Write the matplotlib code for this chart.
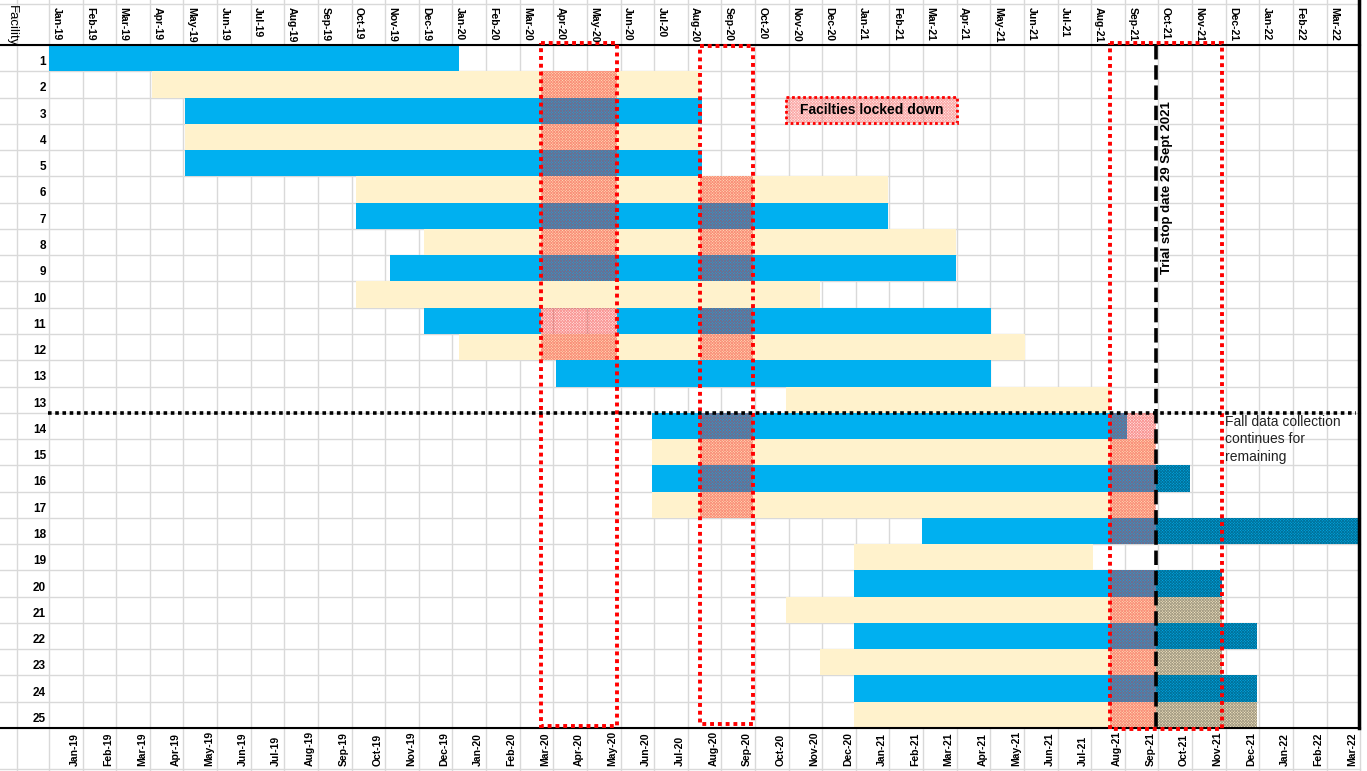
import matplotlib
matplotlib.use('Agg')
import matplotlib.pyplot as plt
from matplotlib.patches import Rectangle

# ---------------- data ----------------
months = ['Jan-19', 'Feb-19', 'Mar-19', 'Apr-19', 'May-19', 'Jun-19', 'Jul-19', 'Aug-19',
          'Sep-19', 'Oct-19', 'Nov-19', 'Dec-19', 'Jan-20', 'Feb-20', 'Mar-20', 'Apr-20',
          'May-20', 'Jun-20', 'Jul-20', 'Aug-20', 'Sep-20', 'Oct-20', 'Nov-20', 'Dec-20',
          'Jan-21', 'Feb-21', 'Mar-21', 'Apr-21', 'May-21', 'Jun-21', 'Jul-21', 'Aug-21',
          'Sep-21', 'Oct-21', 'Nov-21', 'Dec-21', 'Jan-22', 'Feb-22', 'Mar-22']

facilities = ['1', '2', '3', '4', '5', '6', '7', '8', '9', '10', '11', '12', '13', '13',
              '14', '15', '16', '17', '18', '19', '20', '21', '22', '23', '24', '25']

# start / end of each facility's data collection, in months since 1 Jan 2019
starts = [0.0, 3.06, 4.05, 4.05, 4.05, 9.13, 9.13, 11.15, 10.14, 9.13, 11.15, 12.2, 15.08,
          21.92, 17.94, 17.94, 17.94, 17.94, 25.97, 23.94, 23.94, 21.92, 23.94, 22.93,
          23.94, 23.94]
ends = [12.2, 19.36, 19.42, 19.36, 19.42, 24.96, 24.96, 26.98, 26.98, 22.93, 28.02, 29.03,
        28.02, 31.56, 32.06, 32.9, 33.94, 32.9, 39.0, 31.05, 34.89, 34.89, 35.93, 34.89,
        35.93, 35.93]
# row 11 paused during first lockdown
gap_row = 10
gap_start, gap_end = 14.63, 16.9

# lockdown periods (months since 1 Jan 2019)
lock_start = [14.63, 19.36, 31.56]
lock_end = [16.9, 20.94, 34.89]
# rows (0-based row positions) whose bars are shaded during each lockdown
lock_rows = [[1, 2, 3, 4, 5, 6, 7, 8, 10, 11],
             [5, 6, 7, 8, 10, 11, 14, 15, 16, 17],
             [14, 15, 16, 17, 18, 20, 21, 22, 23, 24, 25]]

trial_stop = 32.93   # 29 Sept 2021

# ---------------- layout helpers ----------------
W, H = 1367, 771
X0, PXM = 49.0, 33.62
Y0, ROWH = 45.0, 26.27


def mx(px):
    return (px - X0) / PXM


def ry(py):
    return (py - Y0) / ROWH


BLUE = '#00B0F0'
CREAM = '#FFF2CC'
GRID = '#D9D9D9'
RED = '#FF0000'

plt.rcParams['hatch.linewidth'] = 0.6
plt.rcParams['font.family'] = ['Liberation Sans', 'DejaVu Sans']

fig = plt.figure(figsize=(W / 100, H / 100), dpi=100)
ax = fig.add_axes([0, 0, 1, 1])
ax.set_xlim(mx(0), mx(W))
ax.set_ylim(ry(H), ry(0))
ax.axis('off')

n_rows = len(facilities)
n_m = len(months)

# worksheet grid
for m in range(n_m + 1):
    ax.plot([m, m], [ry(0), ry(H)], color=GRID, lw=1, zorder=0)
ax.plot([mx(17), mx(17)], [ry(0), ry(H)], color=GRID, lw=1, zorder=0)
for r in range(n_rows + 1):
    ax.plot([mx(0), n_m], [r, r], color=GRID, lw=1, zorder=0)
ax.plot([mx(0), n_m], [ry(4), ry(4)], color=GRID, lw=1, zorder=0)
ax.plot([mx(0), n_m], [ry(769), ry(769)], color=GRID, lw=1, zorder=0)

# bars
for i in range(n_rows):
    col = BLUE if i % 2 == 0 else CREAM
    if i == gap_row:
        ax.barh(i + 0.5, gap_start - starts[i], left=starts[i], height=1.0, color=col,
                lw=0, zorder=2)
        ax.barh(i + 0.5, ends[i] - gap_end, left=gap_end, height=1.0, color=col,
                lw=0, zorder=2)
    else:
        ax.barh(i + 0.5, ends[i] - starts[i], left=starts[i], height=1.0, color=col,
                lw=0, zorder=2)

# lockdown shading on bars
for k in range(len(lock_start)):
    a = lock_start[k]
    b = min(lock_end[k], trial_stop)
    for i in lock_rows[k]:
        ax.barh(i + 0.5, b - a, left=a, height=1.0, color=(1, 0.2, 0.1, 0.1),
                edgecolor=(0.95, 0.1, 0.1, 0.4), hatch='xxxxxxxxxxxx', lw=0, zorder=3)

# continued data collection after trial stop
for i in lock_rows[2]:
    if ends[i] > trial_stop + 0.05:
        ax.barh(i + 0.5, ends[i] - trial_stop, left=trial_stop, height=1.0,
                color=(0, 0, 0, 0.04), edgecolor=(0, 0, 0, 0.32), hatch='xxxxxxxxxxxx',
                lw=0, zorder=3)

# lockdown dotted boxes
box_y = [(43, 726), (46, 724), (43, 729)]
for k in range(len(lock_start)):
    y1, y2 = ry(box_y[k][0]), ry(box_y[k][1])
    ax.add_patch(Rectangle((lock_start[k], y1), lock_end[k] - lock_start[k], y2 - y1,
                           fill=False, edgecolor=RED, lw=2.8, linestyle=(0, (1, 1)),
                           zorder=6))

# trial stop line
ax.plot([trial_stop, trial_stop], [ry(45), ry(728)], color='black', lw=2.6,
        dashes=(4, 1.6), zorder=7)
ax.text(trial_stop + mx(1166) - mx(1155), ry(188), 'Trial stop date 29 Sept 2021',
        rotation=90, ha='center', va='center', fontsize=9.5, fontweight='bold', zorder=8)

# separator between cohorts
ax.plot([mx(48), mx(1356)], [14, 14], color='black', lw=2.6, linestyle=(0, (1, 1)), zorder=7)

# header / footer lines
ax.plot([mx(0), n_m], [0, 0], color='black', lw=1.5, zorder=5)
ax.plot([mx(0), n_m], [n_rows, n_rows], color='black', lw=1.5, zorder=5)
ax.plot([mx(1359), mx(1359)], [ry(0), ry(728)], color='black', lw=2.5, zorder=5)

# month labels
for m, lab in enumerate(months):
    ax.text(m + 0.22, ry(7), lab, rotation=270, ha='center', va='top', fontsize=7.6,
            fontweight='bold', zorder=8)
    ax.text(m + 0.76, ry(766), lab, rotation=90, ha='center', va='bottom', fontsize=7.5,
            fontweight='bold', zorder=8)
ax.text(mx(12), ry(5), 'Facility', rotation=270, ha='center', va='top', fontsize=9.5, zorder=8)

# facility labels
for i, lab in enumerate(facilities):
    ax.text(mx(46), i + 1 - 0.12, lab, ha='right', va='bottom', fontsize=8.5,
            fontweight='bold', zorder=8)

# legend box
lx1, lx2, ly1, ly2 = mx(786), mx(957), ry(97), ry(123)
ax.add_patch(Rectangle((lx1, ly1), lx2 - lx1, ly2 - ly1, facecolor=(1, 0.2, 0.1, 0.08),
                       edgecolor=(0.95, 0.1, 0.1, 0.32), hatch='xxxxxxxxxxxx', lw=0, zorder=5))
ax.add_patch(Rectangle((lx1, ly1), lx2 - lx1, ly2 - ly1, fill=False, edgecolor=RED,
                       lw=2.0, linestyle=(0, (1, 1)), zorder=6))
ax.text((lx1 + lx2) / 2, (ly1 + ly2) / 2, 'Facilties locked down', ha='center',
        va='center', fontsize=10, fontweight='bold', zorder=8)

# note
ax.text(mx(1225), ry(415), 'Fall data collection\ncontinues for\nremaining', ha='left',
        va='top', fontsize=10, linespacing=1.3, color='#222222', zorder=8)

fig.savefig('out.png', dpi=100)
